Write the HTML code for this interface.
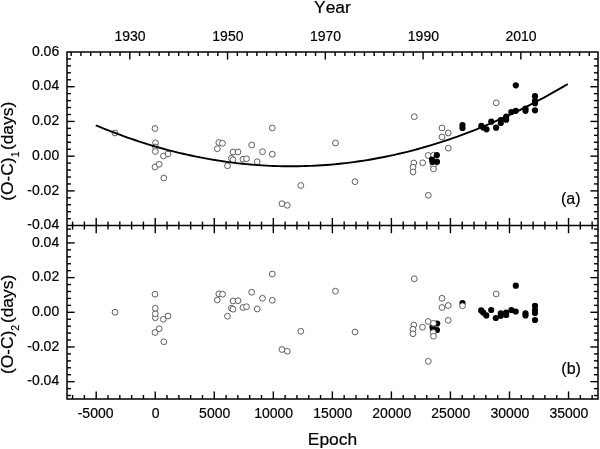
<!DOCTYPE html>
<html lang="en"><head><meta charset="utf-8"><title>O-C diagram</title>
<style>html,body{margin:0;padding:0;background:#fff}svg{display:block}text{font-kerning:none}</style></head>
<body>
<svg width="600" height="449" viewBox="0 0 600 449">
<rect width="600" height="449" fill="#fff"/>
<g fill="#fff" stroke="#444" stroke-width="0.85"><circle cx="115" cy="133" r="2.9"/><circle cx="155" cy="128.5" r="2.9"/><circle cx="155.5" cy="142.8" r="2.9"/><circle cx="155.5" cy="147" r="2.9"/><circle cx="155.3" cy="151.5" r="2.9"/><circle cx="155" cy="167" r="2.9"/><circle cx="159.2" cy="164.2" r="2.9"/><circle cx="163.5" cy="156" r="2.9"/><circle cx="168" cy="154" r="2.9"/><circle cx="163.8" cy="178" r="2.9"/><circle cx="218.8" cy="142.5" r="2.9"/><circle cx="222.5" cy="143.3" r="2.9"/><circle cx="217.3" cy="148.7" r="2.9"/><circle cx="233" cy="152" r="2.9"/><circle cx="238" cy="152" r="2.9"/><circle cx="231.3" cy="158.3" r="2.9"/><circle cx="233" cy="159.7" r="2.9"/><circle cx="227.5" cy="165.8" r="2.9"/><circle cx="243" cy="159.2" r="2.9"/><circle cx="246.5" cy="158.8" r="2.9"/><circle cx="251.7" cy="145" r="2.9"/><circle cx="257.2" cy="161.7" r="2.9"/><circle cx="262.5" cy="151.7" r="2.9"/><circle cx="272.3" cy="128" r="2.9"/><circle cx="272.3" cy="154.2" r="2.9"/><circle cx="300.8" cy="185.5" r="2.9"/><circle cx="335.5" cy="143" r="2.9"/><circle cx="355" cy="181.7" r="2.9"/><circle cx="282" cy="203.7" r="2.9"/><circle cx="287.3" cy="205.3" r="2.9"/><circle cx="414.3" cy="116.7" r="2.9"/><circle cx="442" cy="128" r="2.9"/><circle cx="448.2" cy="133" r="2.9"/><circle cx="442" cy="137" r="2.9"/><circle cx="448.3" cy="148.2" r="2.9"/><circle cx="428.2" cy="155.5" r="2.9"/><circle cx="433.5" cy="155.2" r="2.9"/><circle cx="422.7" cy="162.8" r="2.9"/><circle cx="413.8" cy="163" r="2.9"/><circle cx="413" cy="167.2" r="2.9"/><circle cx="413" cy="172" r="2.9"/><circle cx="433.5" cy="165.5" r="2.9"/><circle cx="433.5" cy="169" r="2.9"/><circle cx="496.2" cy="102.8" r="2.9"/><circle cx="428.3" cy="195.3" r="2.9"/></g>
<g fill="#000"><circle cx="436.8" cy="155.2" r="3.1"/><circle cx="432" cy="159.5" r="3.1"/><circle cx="432.5" cy="162" r="3.1"/><circle cx="437" cy="161.8" r="3.1"/><circle cx="462.5" cy="125" r="3.1"/><circle cx="462.5" cy="128" r="3.1"/><circle cx="481.3" cy="125.9" r="3.1"/><circle cx="483.2" cy="127.5" r="3.1"/><circle cx="486.5" cy="129.3" r="3.1"/><circle cx="491.3" cy="121.7" r="3.1"/><circle cx="496.1" cy="127.7" r="3.1"/><circle cx="500.8" cy="120" r="3.1"/><circle cx="500.8" cy="123" r="3.1"/><circle cx="506.2" cy="116.7" r="3.1"/><circle cx="506.2" cy="119.7" r="3.1"/><circle cx="511.3" cy="112" r="3.1"/><circle cx="515.8" cy="110.8" r="3.1"/><circle cx="515.8" cy="85.3" r="3.1"/><circle cx="525.5" cy="108.7" r="3.1"/><circle cx="525.5" cy="110.8" r="3.1"/><circle cx="535" cy="96.2" r="3.1"/><circle cx="535" cy="100.8" r="3.1"/><circle cx="535" cy="103.2" r="3.1"/><circle cx="535" cy="110.3" r="3.1"/></g>
<path d="M95.80,125.30 L99.77,126.95 L103.73,128.56 L107.70,130.15 L111.66,131.69 L115.63,133.21 L119.60,134.68 L123.56,136.13 L127.53,137.54 L131.49,138.92 L135.46,140.26 L139.43,141.57 L143.39,142.85 L147.36,144.09 L151.32,145.30 L155.29,146.48 L159.26,147.62 L163.22,148.72 L167.19,149.80 L171.15,150.84 L175.12,151.84 L179.09,152.82 L183.05,153.75 L187.02,154.66 L190.98,155.53 L194.95,156.36 L198.92,157.17 L202.88,157.94 L206.85,158.67 L210.81,159.37 L214.78,160.04 L218.74,160.67 L222.71,161.27 L226.68,161.84 L230.64,162.37 L234.61,162.87 L238.57,163.34 L242.54,163.77 L246.51,164.16 L250.47,164.53 L254.44,164.86 L258.40,165.15 L262.37,165.41 L266.34,165.64 L270.30,165.84 L274.27,166.00 L278.23,166.12 L282.20,166.22 L286.17,166.27 L290.13,166.30 L294.10,166.29 L298.06,166.25 L302.03,166.17 L306.00,166.06 L309.96,165.92 L313.93,165.74 L317.89,165.53 L321.86,165.28 L325.83,165.00 L329.79,164.69 L333.76,164.34 L337.72,163.96 L341.69,163.55 L345.66,163.10 L349.62,162.62 L353.59,162.10 L357.55,161.55 L361.52,160.97 L365.49,160.35 L369.45,159.70 L373.42,159.01 L377.38,158.29 L381.35,157.54 L385.32,156.75 L389.28,155.93 L393.25,155.08 L397.21,154.19 L401.18,153.27 L405.15,152.31 L409.11,151.32 L413.08,150.30 L417.04,149.24 L421.01,148.15 L424.98,147.03 L428.94,145.87 L432.91,144.67 L436.87,143.45 L440.84,142.19 L444.81,140.89 L448.77,139.57 L452.74,138.20 L456.70,136.81 L460.67,135.38 L464.63,133.92 L468.60,132.42 L472.57,130.89 L476.53,129.32 L480.50,127.73 L484.46,126.09 L488.43,124.43 L492.40,122.73 L496.36,120.99 L500.33,119.23 L504.29,117.43 L508.26,115.59 L512.23,113.72 L516.19,111.82 L520.16,109.88 L524.12,107.91 L528.09,105.91 L532.06,103.87 L536.02,101.80 L539.99,99.69 L543.95,97.55 L547.92,95.38 L551.89,93.17 L555.85,90.93 L559.82,88.66 L563.78,86.35 L567.75,84.01" fill="none" stroke="#000" stroke-width="1.9"/>
<g fill="#000"><circle cx="437.2" cy="323.5" r="3.1"/><circle cx="432.5" cy="327.2" r="3.1"/><circle cx="437" cy="330" r="3.1"/><circle cx="433" cy="329.5" r="3.1"/><circle cx="462.5" cy="303" r="3.1"/><circle cx="481.2" cy="310.4" r="3.1"/><circle cx="483.2" cy="312.6" r="3.1"/><circle cx="486.3" cy="315.4" r="3.1"/><circle cx="491.2" cy="310" r="3.1"/><circle cx="495.8" cy="318" r="3.1"/><circle cx="500.8" cy="313.3" r="3.1"/><circle cx="500.8" cy="315.8" r="3.1"/><circle cx="506.2" cy="312.5" r="3.1"/><circle cx="506.2" cy="315" r="3.1"/><circle cx="511.4" cy="310" r="3.1"/><circle cx="515.7" cy="311.5" r="3.1"/><circle cx="515.8" cy="285.7" r="3.1"/><circle cx="525.5" cy="313.3" r="3.1"/><circle cx="525.5" cy="315.5" r="3.1"/><circle cx="535" cy="305.8" r="3.1"/><circle cx="535" cy="310" r="3.1"/><circle cx="535" cy="313" r="3.1"/><circle cx="535" cy="320" r="3.1"/></g>
<g fill="#fff" stroke="#444" stroke-width="0.85"><circle cx="115" cy="312.2" r="2.9"/><circle cx="155" cy="332.5" r="2.9"/><circle cx="155.3" cy="317.7" r="2.9"/><circle cx="155.3" cy="313.7" r="2.9"/><circle cx="155.3" cy="308.3" r="2.9"/><circle cx="155" cy="294.2" r="2.9"/><circle cx="159.2" cy="328.7" r="2.9"/><circle cx="163.3" cy="319.3" r="2.9"/><circle cx="168" cy="316" r="2.9"/><circle cx="163.8" cy="341.8" r="2.9"/><circle cx="218.8" cy="293.8" r="2.9"/><circle cx="222.5" cy="294.2" r="2.9"/><circle cx="217.3" cy="300" r="2.9"/><circle cx="233" cy="301" r="2.9"/><circle cx="238" cy="300.7" r="2.9"/><circle cx="231.3" cy="308.3" r="2.9"/><circle cx="233" cy="309.2" r="2.9"/><circle cx="227.5" cy="316.2" r="2.9"/><circle cx="243" cy="307.5" r="2.9"/><circle cx="246.5" cy="306.7" r="2.9"/><circle cx="251.7" cy="292.2" r="2.9"/><circle cx="257.2" cy="309" r="2.9"/><circle cx="262.5" cy="298.3" r="2.9"/><circle cx="272.3" cy="274" r="2.9"/><circle cx="272.3" cy="300.3" r="2.9"/><circle cx="300.8" cy="331.3" r="2.9"/><circle cx="335.5" cy="291.2" r="2.9"/><circle cx="355" cy="332" r="2.9"/><circle cx="282" cy="349.5" r="2.9"/><circle cx="287.3" cy="351.2" r="2.9"/><circle cx="414.3" cy="278.8" r="2.9"/><circle cx="442" cy="298.3" r="2.9"/><circle cx="448.2" cy="305.5" r="2.9"/><circle cx="442" cy="307.5" r="2.9"/><circle cx="448.2" cy="320.3" r="2.9"/><circle cx="428.2" cy="321.5" r="2.9"/><circle cx="433.5" cy="323.3" r="2.9"/><circle cx="422.5" cy="327.2" r="2.9"/><circle cx="413.8" cy="325" r="2.9"/><circle cx="413" cy="329.3" r="2.9"/><circle cx="413" cy="333.8" r="2.9"/><circle cx="433.2" cy="332.5" r="2.9"/><circle cx="433.5" cy="336.2" r="2.9"/><circle cx="462.5" cy="305.8" r="2.9"/><circle cx="496.2" cy="294" r="2.9"/><circle cx="428.3" cy="361.3" r="2.9"/></g>
<g stroke="#000" stroke-width="1.4"><line x1="72.58" y1="399.00" x2="72.58" y2="395.00"/><line x1="72.58" y1="221.60" x2="72.58" y2="229.60"/><line x1="84.39" y1="399.00" x2="84.39" y2="395.00"/><line x1="84.39" y1="221.60" x2="84.39" y2="229.60"/><line x1="96.20" y1="399.00" x2="96.20" y2="391.40"/><line x1="96.20" y1="218.00" x2="96.20" y2="233.20"/><line x1="108.01" y1="399.00" x2="108.01" y2="395.00"/><line x1="108.01" y1="221.60" x2="108.01" y2="229.60"/><line x1="119.82" y1="399.00" x2="119.82" y2="395.00"/><line x1="119.82" y1="221.60" x2="119.82" y2="229.60"/><line x1="131.62" y1="399.00" x2="131.62" y2="395.00"/><line x1="131.62" y1="221.60" x2="131.62" y2="229.60"/><line x1="143.43" y1="399.00" x2="143.43" y2="395.00"/><line x1="143.43" y1="221.60" x2="143.43" y2="229.60"/><line x1="155.24" y1="399.00" x2="155.24" y2="391.40"/><line x1="155.24" y1="218.00" x2="155.24" y2="233.20"/><line x1="167.05" y1="399.00" x2="167.05" y2="395.00"/><line x1="167.05" y1="221.60" x2="167.05" y2="229.60"/><line x1="178.86" y1="399.00" x2="178.86" y2="395.00"/><line x1="178.86" y1="221.60" x2="178.86" y2="229.60"/><line x1="190.66" y1="399.00" x2="190.66" y2="395.00"/><line x1="190.66" y1="221.60" x2="190.66" y2="229.60"/><line x1="202.47" y1="399.00" x2="202.47" y2="395.00"/><line x1="202.47" y1="221.60" x2="202.47" y2="229.60"/><line x1="214.28" y1="399.00" x2="214.28" y2="391.40"/><line x1="214.28" y1="218.00" x2="214.28" y2="233.20"/><line x1="226.09" y1="399.00" x2="226.09" y2="395.00"/><line x1="226.09" y1="221.60" x2="226.09" y2="229.60"/><line x1="237.90" y1="399.00" x2="237.90" y2="395.00"/><line x1="237.90" y1="221.60" x2="237.90" y2="229.60"/><line x1="249.70" y1="399.00" x2="249.70" y2="395.00"/><line x1="249.70" y1="221.60" x2="249.70" y2="229.60"/><line x1="261.51" y1="399.00" x2="261.51" y2="395.00"/><line x1="261.51" y1="221.60" x2="261.51" y2="229.60"/><line x1="273.32" y1="399.00" x2="273.32" y2="391.40"/><line x1="273.32" y1="218.00" x2="273.32" y2="233.20"/><line x1="285.13" y1="399.00" x2="285.13" y2="395.00"/><line x1="285.13" y1="221.60" x2="285.13" y2="229.60"/><line x1="296.94" y1="399.00" x2="296.94" y2="395.00"/><line x1="296.94" y1="221.60" x2="296.94" y2="229.60"/><line x1="308.74" y1="399.00" x2="308.74" y2="395.00"/><line x1="308.74" y1="221.60" x2="308.74" y2="229.60"/><line x1="320.55" y1="399.00" x2="320.55" y2="395.00"/><line x1="320.55" y1="221.60" x2="320.55" y2="229.60"/><line x1="332.36" y1="399.00" x2="332.36" y2="391.40"/><line x1="332.36" y1="218.00" x2="332.36" y2="233.20"/><line x1="344.17" y1="399.00" x2="344.17" y2="395.00"/><line x1="344.17" y1="221.60" x2="344.17" y2="229.60"/><line x1="355.98" y1="399.00" x2="355.98" y2="395.00"/><line x1="355.98" y1="221.60" x2="355.98" y2="229.60"/><line x1="367.78" y1="399.00" x2="367.78" y2="395.00"/><line x1="367.78" y1="221.60" x2="367.78" y2="229.60"/><line x1="379.59" y1="399.00" x2="379.59" y2="395.00"/><line x1="379.59" y1="221.60" x2="379.59" y2="229.60"/><line x1="391.40" y1="399.00" x2="391.40" y2="391.40"/><line x1="391.40" y1="218.00" x2="391.40" y2="233.20"/><line x1="403.21" y1="399.00" x2="403.21" y2="395.00"/><line x1="403.21" y1="221.60" x2="403.21" y2="229.60"/><line x1="415.02" y1="399.00" x2="415.02" y2="395.00"/><line x1="415.02" y1="221.60" x2="415.02" y2="229.60"/><line x1="426.82" y1="399.00" x2="426.82" y2="395.00"/><line x1="426.82" y1="221.60" x2="426.82" y2="229.60"/><line x1="438.63" y1="399.00" x2="438.63" y2="395.00"/><line x1="438.63" y1="221.60" x2="438.63" y2="229.60"/><line x1="450.44" y1="399.00" x2="450.44" y2="391.40"/><line x1="450.44" y1="218.00" x2="450.44" y2="233.20"/><line x1="462.25" y1="399.00" x2="462.25" y2="395.00"/><line x1="462.25" y1="221.60" x2="462.25" y2="229.60"/><line x1="474.06" y1="399.00" x2="474.06" y2="395.00"/><line x1="474.06" y1="221.60" x2="474.06" y2="229.60"/><line x1="485.86" y1="399.00" x2="485.86" y2="395.00"/><line x1="485.86" y1="221.60" x2="485.86" y2="229.60"/><line x1="497.67" y1="399.00" x2="497.67" y2="395.00"/><line x1="497.67" y1="221.60" x2="497.67" y2="229.60"/><line x1="509.48" y1="399.00" x2="509.48" y2="391.40"/><line x1="509.48" y1="218.00" x2="509.48" y2="233.20"/><line x1="521.29" y1="399.00" x2="521.29" y2="395.00"/><line x1="521.29" y1="221.60" x2="521.29" y2="229.60"/><line x1="533.10" y1="399.00" x2="533.10" y2="395.00"/><line x1="533.10" y1="221.60" x2="533.10" y2="229.60"/><line x1="544.90" y1="399.00" x2="544.90" y2="395.00"/><line x1="544.90" y1="221.60" x2="544.90" y2="229.60"/><line x1="556.71" y1="399.00" x2="556.71" y2="395.00"/><line x1="556.71" y1="221.60" x2="556.71" y2="229.60"/><line x1="568.52" y1="399.00" x2="568.52" y2="391.40"/><line x1="568.52" y1="218.00" x2="568.52" y2="233.20"/><line x1="580.33" y1="399.00" x2="580.33" y2="395.00"/><line x1="580.33" y1="221.60" x2="580.33" y2="229.60"/><line x1="592.14" y1="399.00" x2="592.14" y2="395.00"/><line x1="592.14" y1="221.60" x2="592.14" y2="229.60"/><line x1="71.14" y1="52.00" x2="71.14" y2="56.00"/><line x1="80.92" y1="52.00" x2="80.92" y2="56.00"/><line x1="90.70" y1="52.00" x2="90.70" y2="56.00"/><line x1="100.47" y1="52.00" x2="100.47" y2="56.00"/><line x1="110.25" y1="52.00" x2="110.25" y2="56.00"/><line x1="120.02" y1="52.00" x2="120.02" y2="56.00"/><line x1="129.80" y1="52.00" x2="129.80" y2="59.60"/><line x1="139.58" y1="52.00" x2="139.58" y2="56.00"/><line x1="149.35" y1="52.00" x2="149.35" y2="56.00"/><line x1="159.13" y1="52.00" x2="159.13" y2="56.00"/><line x1="168.90" y1="52.00" x2="168.90" y2="56.00"/><line x1="178.68" y1="52.00" x2="178.68" y2="56.00"/><line x1="188.46" y1="52.00" x2="188.46" y2="56.00"/><line x1="198.23" y1="52.00" x2="198.23" y2="56.00"/><line x1="208.01" y1="52.00" x2="208.01" y2="56.00"/><line x1="217.78" y1="52.00" x2="217.78" y2="56.00"/><line x1="227.56" y1="52.00" x2="227.56" y2="59.60"/><line x1="237.34" y1="52.00" x2="237.34" y2="56.00"/><line x1="247.11" y1="52.00" x2="247.11" y2="56.00"/><line x1="256.89" y1="52.00" x2="256.89" y2="56.00"/><line x1="266.66" y1="52.00" x2="266.66" y2="56.00"/><line x1="276.44" y1="52.00" x2="276.44" y2="56.00"/><line x1="286.22" y1="52.00" x2="286.22" y2="56.00"/><line x1="295.99" y1="52.00" x2="295.99" y2="56.00"/><line x1="305.77" y1="52.00" x2="305.77" y2="56.00"/><line x1="315.54" y1="52.00" x2="315.54" y2="56.00"/><line x1="325.32" y1="52.00" x2="325.32" y2="59.60"/><line x1="335.10" y1="52.00" x2="335.10" y2="56.00"/><line x1="344.87" y1="52.00" x2="344.87" y2="56.00"/><line x1="354.65" y1="52.00" x2="354.65" y2="56.00"/><line x1="364.42" y1="52.00" x2="364.42" y2="56.00"/><line x1="374.20" y1="52.00" x2="374.20" y2="56.00"/><line x1="383.98" y1="52.00" x2="383.98" y2="56.00"/><line x1="393.75" y1="52.00" x2="393.75" y2="56.00"/><line x1="403.53" y1="52.00" x2="403.53" y2="56.00"/><line x1="413.30" y1="52.00" x2="413.30" y2="56.00"/><line x1="423.08" y1="52.00" x2="423.08" y2="59.60"/><line x1="432.86" y1="52.00" x2="432.86" y2="56.00"/><line x1="442.63" y1="52.00" x2="442.63" y2="56.00"/><line x1="452.41" y1="52.00" x2="452.41" y2="56.00"/><line x1="462.18" y1="52.00" x2="462.18" y2="56.00"/><line x1="471.96" y1="52.00" x2="471.96" y2="56.00"/><line x1="481.74" y1="52.00" x2="481.74" y2="56.00"/><line x1="491.51" y1="52.00" x2="491.51" y2="56.00"/><line x1="501.29" y1="52.00" x2="501.29" y2="56.00"/><line x1="511.06" y1="52.00" x2="511.06" y2="56.00"/><line x1="520.84" y1="52.00" x2="520.84" y2="59.60"/><line x1="530.62" y1="52.00" x2="530.62" y2="56.00"/><line x1="540.39" y1="52.00" x2="540.39" y2="56.00"/><line x1="550.17" y1="52.00" x2="550.17" y2="56.00"/><line x1="559.94" y1="52.00" x2="559.94" y2="56.00"/><line x1="569.72" y1="52.00" x2="569.72" y2="56.00"/><line x1="579.50" y1="52.00" x2="579.50" y2="56.00"/><line x1="589.27" y1="52.00" x2="589.27" y2="56.00"/><line x1="67.00" y1="218.66" x2="71.00" y2="218.66"/><line x1="598.00" y1="218.66" x2="594.00" y2="218.66"/><line x1="67.00" y1="211.71" x2="71.00" y2="211.71"/><line x1="598.00" y1="211.71" x2="594.00" y2="211.71"/><line x1="67.00" y1="204.77" x2="71.00" y2="204.77"/><line x1="598.00" y1="204.77" x2="594.00" y2="204.77"/><line x1="67.00" y1="197.82" x2="71.00" y2="197.82"/><line x1="598.00" y1="197.82" x2="594.00" y2="197.82"/><line x1="67.00" y1="190.88" x2="74.60" y2="190.88"/><line x1="598.00" y1="190.88" x2="590.40" y2="190.88"/><line x1="67.00" y1="183.94" x2="71.00" y2="183.94"/><line x1="598.00" y1="183.94" x2="594.00" y2="183.94"/><line x1="67.00" y1="176.99" x2="71.00" y2="176.99"/><line x1="598.00" y1="176.99" x2="594.00" y2="176.99"/><line x1="67.00" y1="170.05" x2="71.00" y2="170.05"/><line x1="598.00" y1="170.05" x2="594.00" y2="170.05"/><line x1="67.00" y1="163.10" x2="71.00" y2="163.10"/><line x1="598.00" y1="163.10" x2="594.00" y2="163.10"/><line x1="67.00" y1="156.16" x2="74.60" y2="156.16"/><line x1="598.00" y1="156.16" x2="590.40" y2="156.16"/><line x1="67.00" y1="149.22" x2="71.00" y2="149.22"/><line x1="598.00" y1="149.22" x2="594.00" y2="149.22"/><line x1="67.00" y1="142.27" x2="71.00" y2="142.27"/><line x1="598.00" y1="142.27" x2="594.00" y2="142.27"/><line x1="67.00" y1="135.33" x2="71.00" y2="135.33"/><line x1="598.00" y1="135.33" x2="594.00" y2="135.33"/><line x1="67.00" y1="128.38" x2="71.00" y2="128.38"/><line x1="598.00" y1="128.38" x2="594.00" y2="128.38"/><line x1="67.00" y1="121.44" x2="74.60" y2="121.44"/><line x1="598.00" y1="121.44" x2="590.40" y2="121.44"/><line x1="67.00" y1="114.50" x2="71.00" y2="114.50"/><line x1="598.00" y1="114.50" x2="594.00" y2="114.50"/><line x1="67.00" y1="107.55" x2="71.00" y2="107.55"/><line x1="598.00" y1="107.55" x2="594.00" y2="107.55"/><line x1="67.00" y1="100.61" x2="71.00" y2="100.61"/><line x1="598.00" y1="100.61" x2="594.00" y2="100.61"/><line x1="67.00" y1="93.66" x2="71.00" y2="93.66"/><line x1="598.00" y1="93.66" x2="594.00" y2="93.66"/><line x1="67.00" y1="86.72" x2="74.60" y2="86.72"/><line x1="598.00" y1="86.72" x2="590.40" y2="86.72"/><line x1="67.00" y1="79.78" x2="71.00" y2="79.78"/><line x1="598.00" y1="79.78" x2="594.00" y2="79.78"/><line x1="67.00" y1="72.83" x2="71.00" y2="72.83"/><line x1="598.00" y1="72.83" x2="594.00" y2="72.83"/><line x1="67.00" y1="65.89" x2="71.00" y2="65.89"/><line x1="598.00" y1="65.89" x2="594.00" y2="65.89"/><line x1="67.00" y1="58.94" x2="71.00" y2="58.94"/><line x1="598.00" y1="58.94" x2="594.00" y2="58.94"/><line x1="67.00" y1="395.53" x2="71.00" y2="395.53"/><line x1="598.00" y1="395.53" x2="594.00" y2="395.53"/><line x1="67.00" y1="388.60" x2="71.00" y2="388.60"/><line x1="598.00" y1="388.60" x2="594.00" y2="388.60"/><line x1="67.00" y1="381.66" x2="74.60" y2="381.66"/><line x1="598.00" y1="381.66" x2="590.40" y2="381.66"/><line x1="67.00" y1="374.72" x2="71.00" y2="374.72"/><line x1="598.00" y1="374.72" x2="594.00" y2="374.72"/><line x1="67.00" y1="367.79" x2="71.00" y2="367.79"/><line x1="598.00" y1="367.79" x2="594.00" y2="367.79"/><line x1="67.00" y1="360.85" x2="71.00" y2="360.85"/><line x1="598.00" y1="360.85" x2="594.00" y2="360.85"/><line x1="67.00" y1="353.92" x2="71.00" y2="353.92"/><line x1="598.00" y1="353.92" x2="594.00" y2="353.92"/><line x1="67.00" y1="346.98" x2="74.60" y2="346.98"/><line x1="598.00" y1="346.98" x2="590.40" y2="346.98"/><line x1="67.00" y1="340.04" x2="71.00" y2="340.04"/><line x1="598.00" y1="340.04" x2="594.00" y2="340.04"/><line x1="67.00" y1="333.11" x2="71.00" y2="333.11"/><line x1="598.00" y1="333.11" x2="594.00" y2="333.11"/><line x1="67.00" y1="326.17" x2="71.00" y2="326.17"/><line x1="598.00" y1="326.17" x2="594.00" y2="326.17"/><line x1="67.00" y1="319.24" x2="71.00" y2="319.24"/><line x1="598.00" y1="319.24" x2="594.00" y2="319.24"/><line x1="67.00" y1="312.30" x2="74.60" y2="312.30"/><line x1="598.00" y1="312.30" x2="590.40" y2="312.30"/><line x1="67.00" y1="305.36" x2="71.00" y2="305.36"/><line x1="598.00" y1="305.36" x2="594.00" y2="305.36"/><line x1="67.00" y1="298.43" x2="71.00" y2="298.43"/><line x1="598.00" y1="298.43" x2="594.00" y2="298.43"/><line x1="67.00" y1="291.49" x2="71.00" y2="291.49"/><line x1="598.00" y1="291.49" x2="594.00" y2="291.49"/><line x1="67.00" y1="284.56" x2="71.00" y2="284.56"/><line x1="598.00" y1="284.56" x2="594.00" y2="284.56"/><line x1="67.00" y1="277.62" x2="74.60" y2="277.62"/><line x1="598.00" y1="277.62" x2="590.40" y2="277.62"/><line x1="67.00" y1="270.68" x2="71.00" y2="270.68"/><line x1="598.00" y1="270.68" x2="594.00" y2="270.68"/><line x1="67.00" y1="263.75" x2="71.00" y2="263.75"/><line x1="598.00" y1="263.75" x2="594.00" y2="263.75"/><line x1="67.00" y1="256.81" x2="71.00" y2="256.81"/><line x1="598.00" y1="256.81" x2="594.00" y2="256.81"/><line x1="67.00" y1="249.88" x2="71.00" y2="249.88"/><line x1="598.00" y1="249.88" x2="594.00" y2="249.88"/><line x1="67.00" y1="242.94" x2="74.60" y2="242.94"/><line x1="598.00" y1="242.94" x2="590.40" y2="242.94"/><line x1="67.00" y1="236.00" x2="71.00" y2="236.00"/><line x1="598.00" y1="236.00" x2="594.00" y2="236.00"/><line x1="67.00" y1="229.07" x2="71.00" y2="229.07"/><line x1="598.00" y1="229.07" x2="594.00" y2="229.07"/></g>
<g stroke="#000" stroke-width="1.5" fill="none"><rect x="67.0" y="52.0" width="531.0" height="347.0"/><line x1="67.0" y1="225.6" x2="598.0" y2="225.6"/></g>
<g font-family="'Liberation Sans', sans-serif" fill="#000" stroke="#000" stroke-width="0.2">
<g font-size="14" text-anchor="middle">
<text x="95.6" y="417.5">-5000</text>
<text x="155.6" y="417.5">0</text>
<text x="214.7" y="417.5">5000</text>
<text x="273.7" y="417.5">10000</text>
<text x="332.8" y="417.5">15000</text>
<text x="391.8" y="417.5">20000</text>
<text x="450.8" y="417.5">25000</text>
<text x="509.9" y="417.5">30000</text>
<text x="568.9" y="417.5">35000</text>
<text x="130.1" y="40.8">1930</text>
<text x="227.9" y="40.8">1950</text>
<text x="325.6" y="40.8">1970</text>
<text x="423.4" y="40.8">1990</text>
<text x="521.1" y="40.8">2010</text>
</g>
<g font-size="14" text-anchor="end">
<text x="59.2" y="229.3">-0.04</text>
<text x="59.2" y="194.6">-0.02</text>
<text x="59.2" y="159.9">0.00</text>
<text x="59.2" y="125.1">0.02</text>
<text x="59.2" y="90.4">0.04</text>
<text x="59.2" y="55.7">0.06</text>
<text x="59.2" y="385.4">-0.04</text>
<text x="59.2" y="350.7">-0.02</text>
<text x="59.2" y="316.0">0.00</text>
<text x="59.2" y="281.3">0.02</text>
<text x="59.2" y="246.6">0.04</text>
</g>
<g font-size="17.4">
<text x="332.4" y="13.2" text-anchor="middle">Year</text>
<text x="332.5" y="445.2" text-anchor="middle">Epoch</text>
<text x="561" y="203.8" font-size="16">(a)</text>
<text x="561.3" y="374.1" font-size="16">(b)</text>
<text transform="translate(13,200.8) rotate(-90)">(O-C)<tspan font-size="10.5" dy="5.9">1</tspan><tspan dy="-5.9" dx="1.4">(days)</tspan></text>
<text transform="translate(13,374.1) rotate(-90)">(O-C)<tspan font-size="10.5" dy="5.9">2</tspan><tspan dy="-5.9" dx="1.7">(days)</tspan></text>
</g></g>
</svg>
</body></html>
